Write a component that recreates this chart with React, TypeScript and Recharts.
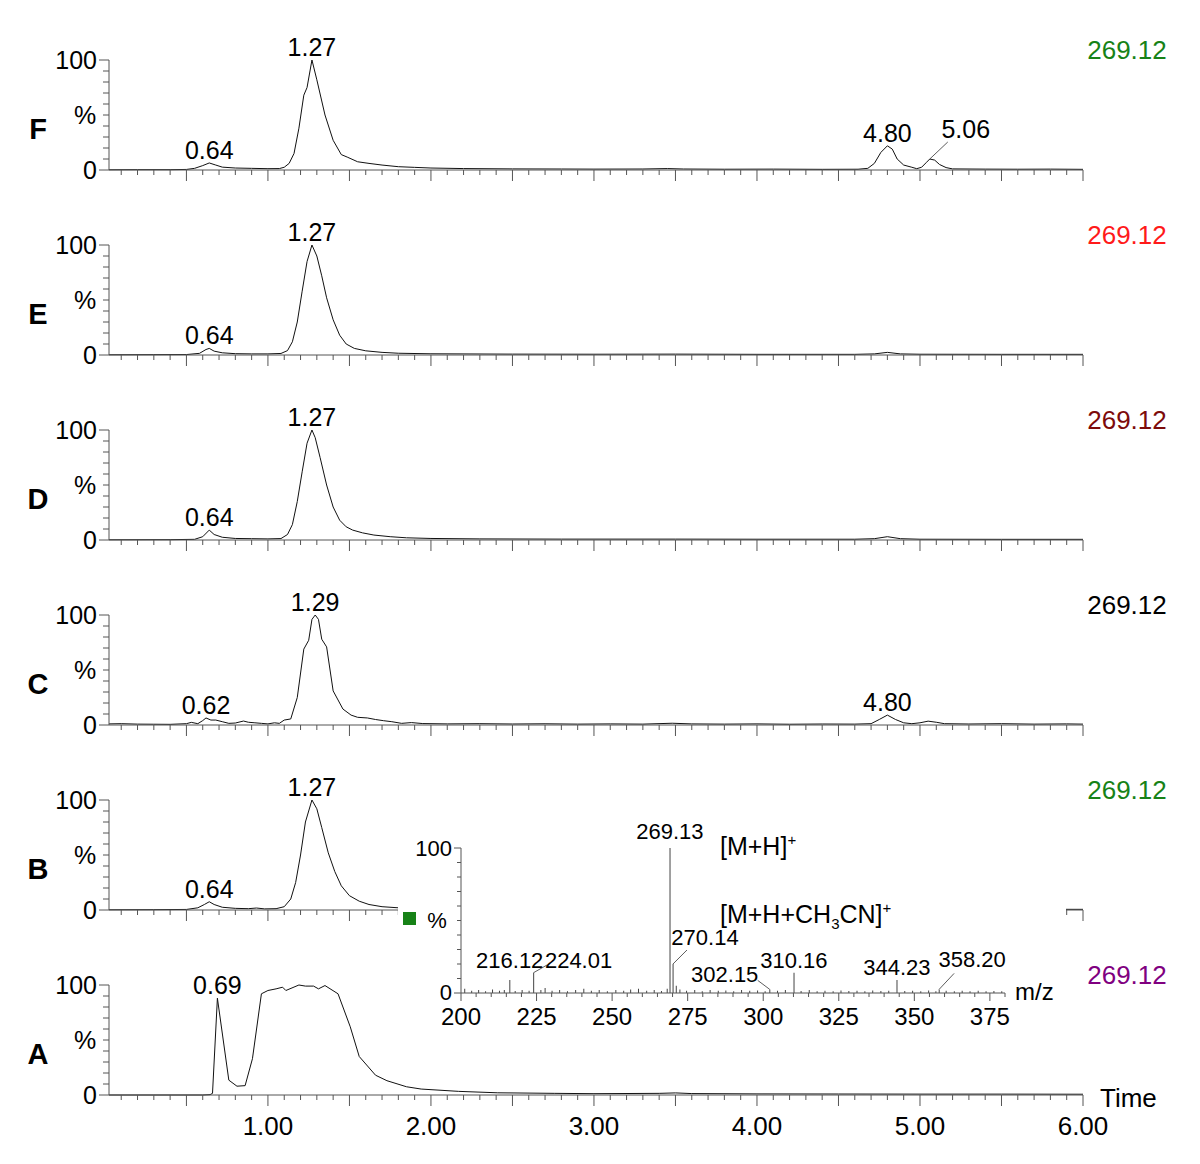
import { Bar, ComposedChart, Line, LineChart, ReferenceDot, XAxis, YAxis } from "recharts";

const FONT = '"Liberation Sans", Arial, Helvetica, sans-serif';
const AXIS = "#555";
const INK = "#111";

// extracted ion chromatograms: [retention time (min), relative intensity (%)]
const TRACE_F: [number, number][] = [
  [0.025, 0.2], [0.2, 0.3], [0.4, 0.3], [0.5, 0.5], [0.55, 1.5], [0.6, 4], [0.64, 6.4], [0.68, 4.5],
  [0.72, 2.6], [0.8, 1.8], [0.9, 1.5], [1.0, 1.2], [1.07, 1.3], [1.1, 2.5], [1.13, 6], [1.16, 15],
  [1.19, 38], [1.22, 68], [1.24, 75], [1.27, 100], [1.3, 82], [1.35, 50], [1.4, 27], [1.45, 14],
  [1.49, 11.5], [1.55, 7.5], [1.62, 6], [1.7, 4.5], [1.8, 3], [1.9, 2.4], [2.0, 1.8], [2.2, 1.3],
  [2.5, 1.0], [2.8, 0.9], [3.0, 0.8], [3.3, 0.9], [3.45, 1.3], [3.55, 0.9], [3.8, 0.7], [4.1, 0.8],
  [4.4, 0.6], [4.62, 0.7], [4.68, 1.5], [4.72, 6], [4.76, 16], [4.8, 22], [4.83, 19], [4.86, 10],
  [4.9, 4.5], [4.95, 2.5], [4.98, 1.2], [5.01, 2.5], [5.04, 7], [5.06, 10], [5.09, 9], [5.12, 5],
  [5.16, 2.2], [5.2, 1.0], [5.4, 0.8], [5.6, 0.7], [5.8, 0.8], [6.0, 0.6],
];
const TRACE_E: [number, number][] = [
  [0.025, 0.2], [0.3, 0.3], [0.5, 0.4], [0.58, 1.5], [0.62, 5], [0.64, 6], [0.67, 3.5], [0.72, 2],
  [0.8, 1.2], [0.9, 1], [1.0, 1], [1.08, 1.4], [1.12, 4], [1.15, 12], [1.18, 30], [1.21, 58],
  [1.24, 85], [1.27, 100], [1.3, 90], [1.33, 72], [1.36, 52], [1.4, 32], [1.44, 18], [1.48, 10],
  [1.53, 6], [1.6, 3.8], [1.7, 2.4], [1.8, 1.6], [2.0, 1.1], [2.5, 0.8], [3.0, 0.7], [3.5, 0.8],
  [4.0, 0.6], [4.6, 0.6], [4.72, 1], [4.8, 2.4], [4.88, 1], [5.0, 0.7], [5.5, 0.6], [6.0, 0.6],
];
const TRACE_D: [number, number][] = [
  [0.025, 0.2], [0.4, 0.3], [0.55, 0.6], [0.6, 3], [0.64, 9], [0.67, 5], [0.72, 2.5], [0.8, 1.4],
  [0.9, 1.2], [1.0, 1], [1.08, 1.3], [1.12, 5], [1.15, 14], [1.18, 35], [1.21, 62], [1.24, 88],
  [1.27, 100], [1.29, 93], [1.32, 75], [1.36, 50], [1.4, 30], [1.44, 18], [1.48, 12], [1.52, 9],
  [1.58, 6.5], [1.65, 4.5], [1.75, 3], [1.85, 2], [2.0, 1.4], [2.3, 1], [2.8, 0.8], [3.5, 0.8],
  [4.0, 0.7], [4.6, 0.7], [4.72, 1.2], [4.8, 3], [4.88, 1.2], [5.0, 0.7], [5.5, 0.6], [6.0, 0.6],
];
const TRACE_C: [number, number][] = [
  [0.025, 1], [0.1, 1.2], [0.2, 0.8], [0.3, 0.7], [0.4, 0.6], [0.5, 1.2], [0.53, 2.4], [0.57, 1.2],
  [0.6, 4], [0.62, 6.4], [0.65, 4.5], [0.68, 4.5], [0.72, 3], [0.76, 1.5], [0.8, 1.8], [0.85, 3.6],
  [0.88, 2.5], [0.92, 2], [0.96, 1.5], [1.0, 1], [1.04, 2], [1.07, 1.5], [1.1, 4.5], [1.14, 5.5],
  [1.18, 25], [1.22, 69], [1.25, 77], [1.27, 96], [1.29, 100], [1.31, 96], [1.33, 78], [1.36, 71],
  [1.4, 31], [1.46, 14.5], [1.51, 9], [1.55, 7], [1.61, 6.4], [1.66, 5], [1.71, 3.9], [1.76, 3],
  [1.82, 1.5], [1.88, 2.2], [1.95, 1.3], [2.1, 1], [2.3, 1.2], [2.5, 0.9], [2.7, 1.1], [2.9, 0.8],
  [3.1, 1], [3.3, 0.8], [3.48, 1.6], [3.6, 1], [3.8, 0.8], [4.0, 1], [4.2, 0.7], [4.4, 0.9],
  [4.6, 0.8], [4.7, 1.2], [4.75, 5], [4.8, 9], [4.85, 5], [4.9, 2], [4.95, 1.2], [5.0, 2],
  [5.05, 3.5], [5.1, 2.5], [5.15, 1.2], [5.3, 0.9], [5.5, 1.2], [5.7, 0.8], [5.9, 1], [6.0, 0.8],
];
const TRACE_B: [number, number][] = [
  [0.025, 0.2], [0.3, 0.3], [0.5, 0.5], [0.57, 2], [0.61, 5], [0.64, 7.5], [0.67, 5], [0.72, 2.5],
  [0.8, 1.5], [0.88, 1.2], [0.93, 1.8], [0.98, 1], [1.05, 1.2], [1.1, 3], [1.14, 10], [1.17, 25],
  [1.2, 50], [1.23, 80], [1.27, 100], [1.3, 92], [1.33, 75], [1.37, 52], [1.41, 35], [1.45, 22],
  [1.5, 13], [1.56, 8], [1.62, 5], [1.7, 3], [1.8, 2], [2.0, 1.2], [3.0, 0.8], [4.0, 0.7],
  [5.0, 0.7], [6.0, 0.6],
];
const TRACE_A: [number, number][] = [
  [0.025, 0], [0.3, 0], [0.6, 0], [0.645, 0.3], [0.66, 1.5], [0.69, 88], [0.76, 13.5], [0.81, 8],
  [0.86, 8.5], [0.905, 33], [0.96, 92], [1.0, 95], [1.05, 96.5], [1.09, 98], [1.11, 95], [1.19, 100],
  [1.23, 99], [1.28, 99], [1.31, 96.5], [1.35, 99.5], [1.43, 92], [1.505, 62], [1.56, 35], [1.66, 18],
  [1.73, 13], [1.85, 7.5], [1.94, 5.4], [2.17, 3.3], [2.41, 2], [2.76, 1.5], [3.0, 1.2], [3.4, 1.5],
  [3.5, 1.9], [3.6, 1.3], [4.0, 1], [4.5, 0.9], [5.0, 0.8], [5.5, 0.8], [6.0, 0.7],
];

// labelled apexes: [time, intensity]
const APEX_F: [number, number][] = [[0.64, 6.4], [1.27, 100], [4.8, 22], [5.06, 10]];
const APEX_E: [number, number][] = [[0.64, 6], [1.27, 100]];
const APEX_D: [number, number][] = [[0.64, 9], [1.27, 100]];
const APEX_C: [number, number][] = [[0.62, 6.4], [1.29, 100], [4.8, 9]];
const APEX_B: [number, number][] = [[0.64, 7.5], [1.27, 100]];
const APEX_A: [number, number][] = [[0.69, 88]];

const TRACE_MASS = "269.12";
const TIME_LABELS = [1, 2, 3, 4, 5, 6];
const TIME_TICKS = Array.from({ length: 60 }, (_, i) => (i + 1) / 10);
const PCT_TICKS = [0, 10, 20, 30, 40, 50, 60, 70, 80, 90, 100];

// inset mass spectrum: [m/z, relative abundance (%)]
const MS_LABELLED: [number, number][] = [
  [216.12, 9], [224.01, 14], [269.13, 100], [270.14, 20], [302.15, 2.5], [310.16, 14],
  [344.23, 9], [358.2, 2.5],
];
const MS_NOISE: [number, number][] = [
  [201.2, 3], [203.5, 1.5], [205.8, 2], [208.1, 1.2], [210.4, 2.5], [212.7, 1.5], [214.3, 2],
  [217.9, 1.3], [220.2, 2], [222.5, 1.5], [226.4, 2], [227.8, 3.5], [230.1, 1.5], [232.6, 2],
  [235.2, 1.2], [237.9, 2], [240.6, 3], [243.1, 1.5], [245.7, 2], [248.4, 1.2], [251.2, 2],
  [253.8, 1.5], [256.1, 2.5], [258.7, 3], [261.4, 1.5], [263.9, 2], [266.3, 1.4], [268.2, 3],
  [271.2, 5], [272.4, 2.5], [274.6, 1.5], [277.3, 2], [279.8, 1.2], [282.4, 2], [285.1, 1.5],
  [287.6, 1.8], [290.2, 1.2], [292.8, 2], [295.5, 1.5], [298.1, 1.8], [300.6, 1.2], [304.7, 1.5],
  [307.3, 2], [312.5, 1.4], [315.2, 2], [317.8, 1.2], [320.4, 1.6], [323.1, 1.2], [325.7, 1.8],
  [328.3, 1.3], [331, 1.6], [333.6, 1.2], [336.2, 1.8], [338.9, 1.3], [341.5, 1.5], [346.8, 1.4],
  [349.4, 1.6], [352.1, 1.2], [354.7, 1.8], [357.1, 1.2], [360.5, 1.5], [363.2, 1.2], [365.8, 1.6],
  [368.4, 1.2], [371.1, 1.5], [373.7, 1.2], [376.3, 1.4], [378.9, 1.2],
];
const MZ_LABELS = [200, 225, 250, 275, 300, 325, 350, 375];
const MZ_TICKS = Array.from({ length: 37 }, (_, i) => 200 + i * 5);

type Callout = { dx: number; dy: number; lx?: number; ly?: number };

// label placement relative to the apex (pixels)
const TIME_CALLOUTS: Record<string, Callout> = {
  "5.06": { dx: 36, dy: -21, lx: 18, ly: -17 },
};
const MS_CALLOUTS: Record<string, Callout> = {
  "216.12": { dx: 0, dy: -12 },
  "224.01": { dx: 45, dy: -5, lx: 14, ly: -8 },
  "269.13": { dx: 0, dy: -9 },
  "270.14": { dx: 32, dy: -19, lx: 14, ly: -14 },
  "302.15": { dx: -45, dy: -7, lx: -12, ly: -9 },
  "358.20": { dx: 33, dy: -22, lx: 15, ly: -16 },
};

const PANELS = [
  { letter: "F", color: "#178217", trace: TRACE_F, apex: APEX_F, zeroY: 170 },
  { letter: "E", color: "#ff1a1a", trace: TRACE_E, apex: APEX_E, zeroY: 355 },
  { letter: "D", color: "#7d0b0b", trace: TRACE_D, apex: APEX_D, zeroY: 540 },
  { letter: "C", color: "#000000", trace: TRACE_C, apex: APEX_C, zeroY: 725 },
  { letter: "B", color: "#178217", trace: TRACE_B, apex: APEX_B, zeroY: 910 },
  { letter: "A", color: "#800080", trace: TRACE_A, apex: APEX_A, zeroY: 1095 },
];

const PLOT_H = 110;
const TOP_PAD = 30;

function PctTick(props: any) {
  const { x = 0, y = 0, payload } = props;
  const v = payload.value;
  const long = v === 0 || v === 100;
  return (
    <g>
      <line x1={x} x2={x - (long ? 10 : 6)} y1={y} y2={y} stroke={AXIS} />
      {long && (
        <text x={x - 12} y={y} dy="0.36em" textAnchor="end" fontSize={25} fontFamily={FONT} fill="#000">
          {v}
        </text>
      )}
      {v === 50 && (
        <text x={x - 24} y={y} dy="0.36em" textAnchor="middle" fontSize={25} fontFamily={FONT} fill="#000">
          %
        </text>
      )}
    </g>
  );
}

function TimeTick(props: any) {
  const { x = 0, y = 0, payload, labelled } = props;
  const v = payload.value;
  const major = Math.abs(v * 2 - Math.round(v * 2)) < 1e-6;
  const whole = TIME_LABELS.some((t) => Math.abs(t - v) < 1e-6);
  return (
    <g>
      <line x1={x} x2={x} y1={y} y2={y + (major ? 11 : 5)} stroke={AXIS} />
      {labelled && whole && (
        <text x={x} y={y + 40} textAnchor="middle" fontSize={26} fontFamily={FONT} fill="#000">
          {v.toFixed(2)}
        </text>
      )}
    </g>
  );
}

function MzTick(props: any) {
  const { x = 0, y = 0, payload } = props;
  const v = payload.value;
  const major = MZ_LABELS.includes(v);
  return (
    <g>
      <line x1={x} x2={x} y1={y} y2={y + (major ? 8 : 4)} stroke={AXIS} />
      {major && (
        <text x={x} y={y + 32} textAnchor="middle" fontSize={24} fontFamily={FONT} fill="#000">
          {v}
        </text>
      )}
    </g>
  );
}

function InsetPctTick(props: any) {
  const { x = 0, y = 0, payload } = props;
  const v = payload.value;
  const long = v === 0 || v === 100;
  return (
    <g>
      <line x1={x} x2={x - (long ? 7 : 4)} y1={y} y2={y} stroke={AXIS} />
      {long && (
        <text x={x - 9} y={y} dy={v === 0 ? "0.3em" : "0.36em"} textAnchor="end" fontSize={22} fontFamily={FONT} fill="#000">
          {v}
        </text>
      )}
      {v === 50 && (
        <text x={x - 24} y={y} dy="0.36em" textAnchor="middle" fontSize={22} fontFamily={FONT} fill="#000">
          %
        </text>
      )}
    </g>
  );
}

function PeakTag({ cx, cy, text, size, call }: { cx?: number; cy?: number; text: string; size: number; call?: Callout }) {
  if (cx == null || cy == null) return null;
  const c = call ?? { dx: 0, dy: -4 };
  return (
    <g>
      {c.lx !== undefined && c.ly !== undefined && (
        <line x1={cx} y1={cy} x2={cx + c.lx} y2={cy + c.ly} stroke="#333" strokeWidth={0.8} />
      )}
      <text x={cx + c.dx} y={cy + c.dy} textAnchor="middle" fontSize={size} fontFamily={FONT} fill="#000">
        {text}
      </text>
    </g>
  );
}

function Chromatogram({ panel }: { panel: (typeof PANELS)[number] }) {
  const data = panel.trace.map(([t, v]) => ({ t, v }));
  return (
    <div style={{ position: "absolute", left: 0, top: panel.zeroY - PLOT_H - TOP_PAD }}>
      <LineChart width={1200} height={TOP_PAD + PLOT_H + 45} data={data} margin={{ top: TOP_PAD, right: 117, bottom: 0, left: 49 }}>
        <XAxis
          type="number"
          dataKey="t"
          domain={[0.025, 6]}
          ticks={TIME_TICKS}
          interval={0}
          allowDataOverflow
          height={45}
          tickSize={0}
          tickMargin={0}
          tickLine={false}
          axisLine={{ stroke: AXIS }}
          tick={<TimeTick labelled={panel.letter === "A"} />}
        />
        <YAxis
          type="number"
          domain={[0, 100]}
          ticks={PCT_TICKS}
          interval={0}
          width={60}
          tickSize={0}
          tickMargin={0}
          tickLine={false}
          axisLine={{ stroke: AXIS }}
          tick={<PctTick />}
        />
        <Line type="linear" dataKey="v" stroke={INK} strokeWidth={1} dot={false} activeDot={false} isAnimationActive={false} />
        {panel.apex.map(([t, v]) => {
          const text = t.toFixed(2);
          return (
            <ReferenceDot
              key={text}
              x={t}
              y={v}
              r={0}
              ifOverflow="visible"
              shape={(p: any) => <PeakTag cx={p.cx} cy={p.cy} text={text} size={25} call={TIME_CALLOUTS[text]} />}
            />
          );
        })}
      </LineChart>
    </div>
  );
}

function Spectrum() {
  const sticks = [...MS_LABELLED, ...MS_NOISE].sort((a, b) => a[0] - b[0]).map(([mz, i]) => ({ mz, i }));
  return (
    <div style={{ position: "absolute", left: 398, top: 815, width: 668, height: 225, background: "#fff" }}>
      <ComposedChart width={668} height={225} data={sticks} margin={{ top: 33, right: 61, bottom: 7, left: 0 }}>
        <XAxis
          type="number"
          dataKey="mz"
          domain={[200, 380]}
          ticks={MZ_TICKS}
          interval={0}
          allowDataOverflow
          height={40}
          tickSize={0}
          tickMargin={0}
          tickLine={false}
          axisLine={{ stroke: AXIS }}
          tick={<MzTick />}
        />
        <YAxis
          type="number"
          domain={[0, 100]}
          ticks={PCT_TICKS}
          interval={0}
          width={63}
          tickSize={0}
          tickMargin={0}
          tickLine={false}
          axisLine={{ stroke: AXIS }}
          tick={<InsetPctTick />}
        />
        <Bar dataKey="i" barSize={1} fill="#444" isAnimationActive={false} />
        {MS_LABELLED.map(([mz, i]) => {
          const text = mz.toFixed(2);
          return (
            <ReferenceDot
              key={text}
              x={mz}
              y={i}
              r={0}
              ifOverflow="visible"
              shape={(p: any) => <PeakTag cx={p.cx} cy={p.cy} text={text} size={22} call={MS_CALLOUTS[text] ?? { dx: 0, dy: -5 }} />}
            />
          );
        })}
      </ComposedChart>
    </div>
  );
}

export default function App() {
  return (
    <div style={{ position: "relative", width: 1200, height: 1164, background: "#fff", fontFamily: FONT, overflow: "hidden" }}>
      <style>{"body{margin:0}"}</style>
      {PANELS.map((p) => (
        <Chromatogram key={p.letter} panel={p} />
      ))}
      <Spectrum />
      <svg width={1200} height={1164} style={{ position: "absolute", left: 0, top: 0, pointerEvents: "none" }}>
        {PANELS.map((p) => (
          <g key={p.letter}>
            <text x={38} y={p.zeroY - 31} textAnchor="middle" fontSize={29} fontWeight="bold" fontFamily={FONT} fill="#000">
              {p.letter}
            </text>
            <text x={1127} y={p.zeroY - 111} textAnchor="middle" fontSize={26} fontFamily={FONT} fill={p.color}>
              {TRACE_MASS}
            </text>
          </g>
        ))}
        <text x={1100} y={1107} fontSize={26} fontFamily={FONT} fill="#000">
          Time
        </text>
        <rect x={403} y={912} width={13} height={13} fill="#178217" />
        <text x={720} y={855} fontSize={25} fontFamily={FONT} fill="#000">
          [M+H]
          <tspan dy={-10} fontSize={15}>+</tspan>
        </text>
        <text x={720} y={923} fontSize={25} fontFamily={FONT} fill="#000">
          [M+H+CH
          <tspan dy={6} fontSize={15}>3</tspan>
          <tspan dy={-6}>CN]</tspan>
          <tspan dy={-10} fontSize={15}>+</tspan>
        </text>
        <text x={1015} y={1000} fontSize={24} fontFamily={FONT} fill="#000">
          m/z
        </text>
      </svg>
    </div>
  );
}
